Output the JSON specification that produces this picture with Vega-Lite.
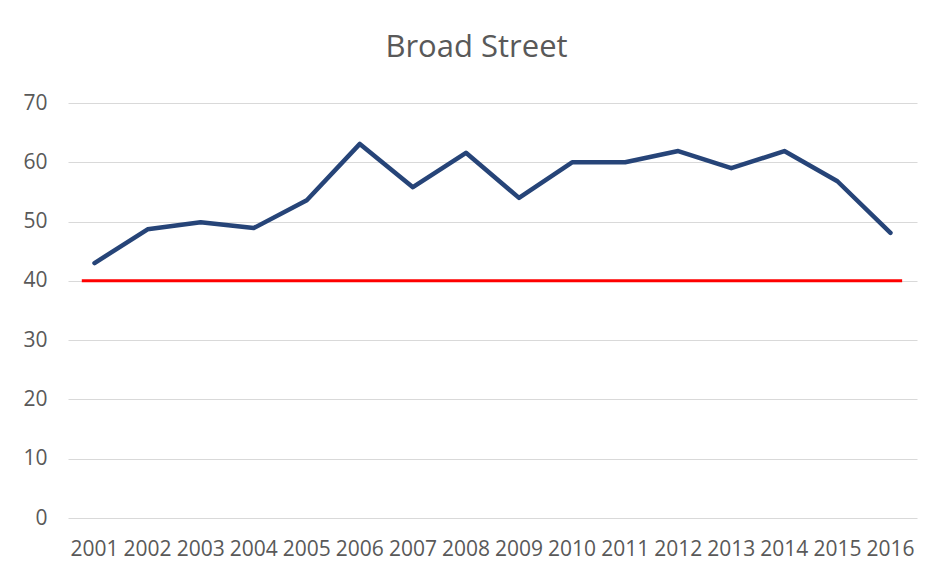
{
  "$schema": "https://vega.github.io/schema/vega-lite/v6.json",
  "width": 849,
  "height": 415,
  "autosize": {"type": "none"},
  "padding": {"left": 68, "top": 103, "right": 19, "bottom": 62},
  "background": "white",
  "title": {
    "text": "Broad Street",
    "font": "Open Sans",
    "fontSize": 31,
    "fontWeight": "normal",
    "color": "#595959",
    "anchor": "middle",
    "dx": -16,
    "offset": 28
  },
  "config": {
    "view": {"stroke": null},
    "axis": {
      "labelFont": "Open Sans",
      "labelFontSize": 21,
      "labelColor": "#595959",
      "domain": false,
      "ticks": false,
      "title": null,
      "gridColor": "#d9d9d9",
      "gridWidth": 1
    }
  },
  "datasets": {
    "series": [
      {"year": "2001", "value": 43.0},
      {"year": "2002", "value": 48.7},
      {"year": "2003", "value": 49.9},
      {"year": "2004", "value": 48.9},
      {"year": "2005", "value": 53.6},
      {"year": "2006", "value": 63.1},
      {"year": "2007", "value": 55.8},
      {"year": "2008", "value": 61.6},
      {"year": "2009", "value": 54.0},
      {"year": "2010", "value": 60.0},
      {"year": "2011", "value": 60.0},
      {"year": "2012", "value": 61.9},
      {"year": "2013", "value": 59.0},
      {"year": "2014", "value": 61.9},
      {"year": "2015", "value": 56.8},
      {"year": "2016", "value": 48.1}
    ],
    "threshold": [
      {"start": "2001", "end": "2016", "value": 40}
    ]
  },
  "layer": [
    {
      "data": {"name": "series"},
      "mark": {"type": "line", "color": "#264478", "strokeWidth": 4.5, "strokeCap": "round", "strokeJoin": "round"},
      "encoding": {
        "x": {
          "field": "year", "type": "ordinal",
          "scale": {"type": "band", "paddingInner": 0, "paddingOuter": 0},
          "axis": {"labelAngle": 0, "labelPadding": 20, "grid": false}
        },
        "y": {
          "field": "value", "type": "quantitative",
          "scale": {"domain": [0, 70], "nice": false},
          "axis": {"values": [0, 10, 20, 30, 40, 50, 60, 70], "labelPadding": 21, "grid": true}
        }
      }
    },
    {
      "data": {"name": "threshold"},
      "mark": {"type": "rule", "color": "#ff0000", "strokeWidth": 3},
      "encoding": {
        "x": {"field": "start", "type": "ordinal", "bandPosition": 0.26},
        "x2": {"field": "end", "bandPosition": 0.72},
        "y": {"field": "value", "type": "quantitative"}
      }
    }
  ]
}
